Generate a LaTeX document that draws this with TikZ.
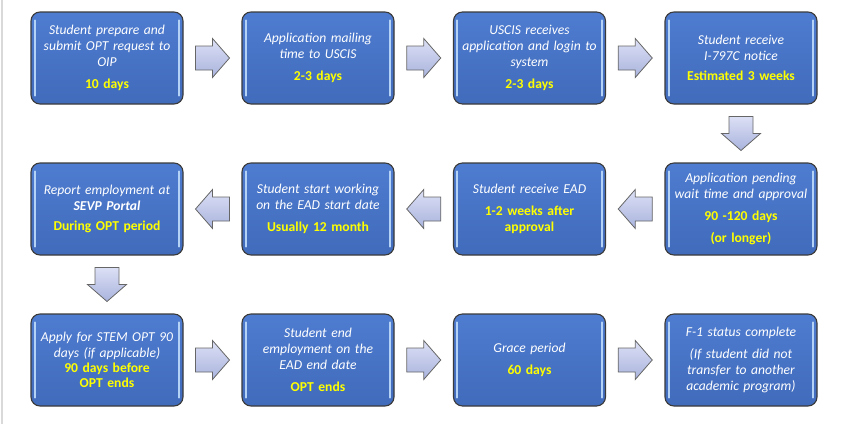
\documentclass[tikz,border=0pt]{standalone}
\usepackage{fontspec}
\setmainfont{Carlito}
\usetikzlibrary{calc}
\definecolor{boxblue}{HTML}{4472C4}
\definecolor{boxtop}{HTML}{4E7CD0}
\definecolor{boxbot}{HTML}{416BBB}
\definecolor{boxedge}{HTML}{3A3A3A}
\definecolor{stripc}{HTML}{B4D2F5}
\definecolor{ylw}{HTML}{FFFF00}
\definecolor{arrtop}{HTML}{DCE0F5}
\definecolor{arrbot}{HTML}{A9B3DD}
\definecolor{arredge}{HTML}{666666}
\definecolor{sideline}{HTML}{D9D9D9}
\newcommand{\yl}[1]{{\color{ylw}\bfseries\upshape #1}}
\begin{document}
\begin{tikzpicture}[x=1pt,y=-1pt,
  stepbox/.style={draw=boxedge, line width=1.1pt, rounded corners=9pt,
    top color=boxtop, bottom color=boxbot, minimum width=152pt, minimum height=92pt,
    inner sep=0pt, text=white, align=center, text width=150pt,
    font=\fontsize{13.6}{15.8}\selectfont\itshape},
  stripline/.style={draw=stripc, line width=2pt, line cap=round},
  arrowsty/.style={draw=arredge, line width=0.8pt, top color=arrtop, bottom color=arrbot, line join=miter},
  pics/barrow/.style={code={
    \draw[arrowsty] (-17,-12) -- (0,-12) -- (0,-19.5) -- (17,0) -- (0,19.5) -- (0,12) -- (-17,12) -- cycle;}}
]
\useasboundingbox (0,0) rectangle (847,424);
\fill[sideline] (0.5,0) rectangle (2.5,424);

% row 1
\node[stepbox] (b1) at (107,58) {Student prepare and\\submit OPT request to\\OIP\\[7pt]\yl{10 days}};
\node[stepbox] (b2) at (318,58) {Application mailing\\time to USCIS\\[7pt]\yl{2-3 days}};
\node[stepbox] (b3) at (529.5,58) {USCIS receives\\application and login to\\system\\[7pt]\yl{2-3 days}};
\node[stepbox] (b4) at (741,58) {Student receive\\I-797C notice\\[5pt]\yl{Estimated 3 weeks}};
% row 2
\node[stepbox] (b5) at (741,209) {Application pending\\wait time and approval\\[6pt]\yl{90 -120 days}\\[6pt]\yl{(or longer)}};
\node[stepbox] (b6) at (529.5,209) {Student receive EAD\\[6pt]\yl{1-2 weeks after}\\\yl{approval}};
\node[stepbox] (b7) at (318,209) {Student start working\\on the EAD start date\\[6pt]\yl{Usually 12 month}};
\node[stepbox] (b8) at (107,209) {Report employment at\\{\bfseries SEVP Portal}\\[5pt]\yl{During OPT period}};
% row 3
\node[stepbox] (b9) at (107,360) {Apply for STEM OPT 90\\days (if applicable)\\[-1pt]\yl{90 days before}\\\yl{OPT ends}};
\node[stepbox] (b10) at (318,360) {Student end\\employment on the\\EAD end date\\[7pt]\yl{OPT ends}};
\node[stepbox] (b11) at (529.5,360) {Grace period\\[6pt]\yl{60 days}};
\node[stepbox] (b12) at (741,360) {F-1 status complete\\[6pt](If student did not\\transfer to another\\academic program)};

% bevel strips
\foreach \b in {b1,b2,b3,b4,b5,b6,b7,b8,b9,b10,b11,b12}{
  \draw[stripline] ([xshift=4.5pt,yshift=-9pt]\b.north west) -- ([xshift=4.5pt,yshift=9pt]\b.south west);
  \draw[stripline] ([xshift=-4.5pt,yshift=-9pt]\b.north east) -- ([xshift=-4.5pt,yshift=9pt]\b.south east);
}

% block arrows
\path ($(b1.east)!0.5!(b2.west)$) pic{barrow};
\path ($(b2.east)!0.5!(b3.west)$) pic{barrow};
\path ($(b3.east)!0.5!(b4.west)$) pic{barrow};
\path ($(b4.south)!0.5!(b5.north)$) pic[rotate=-90]{barrow};
\path ($(b5.west)!0.5!(b6.east)$) pic[rotate=180]{barrow};
\path ($(b6.west)!0.5!(b7.east)$) pic[rotate=180]{barrow};
\path ($(b7.west)!0.5!(b8.east)$) pic[rotate=180]{barrow};
\path ($(b8.south)!0.5!(b9.north)$) pic[rotate=-90]{barrow};
\path ($(b9.east)!0.5!(b10.west)$) pic{barrow};
\path ($(b10.east)!0.5!(b11.west)$) pic{barrow};
\path ($(b11.east)!0.5!(b12.west)$) pic{barrow};
\end{tikzpicture}
\end{document}
